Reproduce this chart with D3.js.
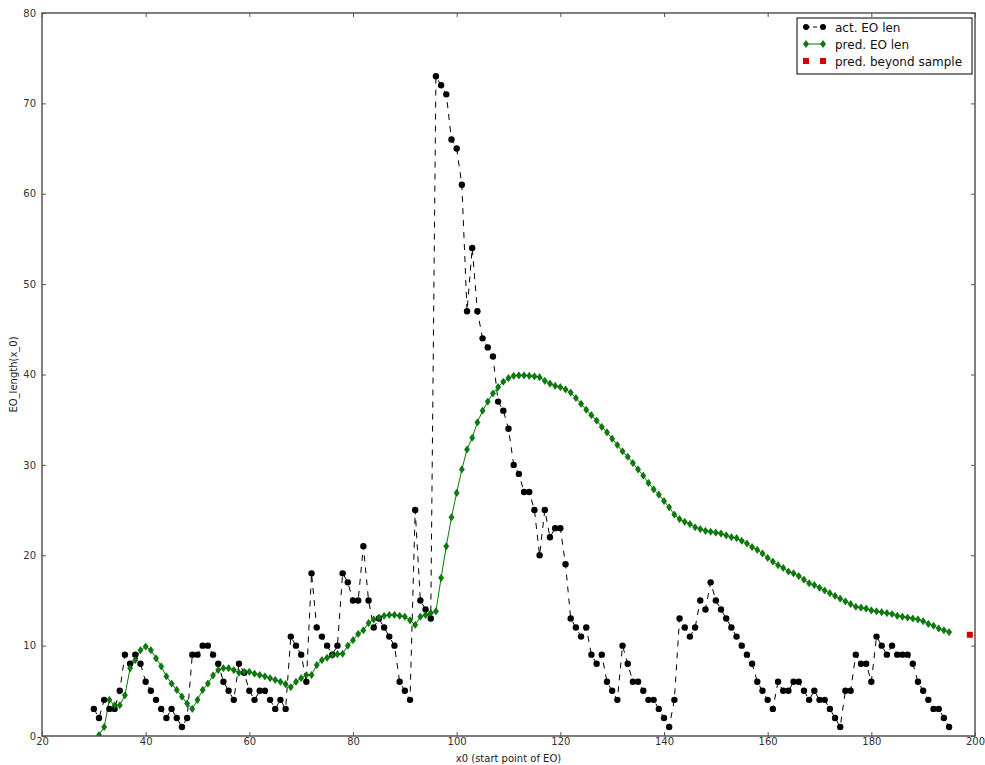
<!DOCTYPE html>
<html>
<head>
<meta charset="utf-8">
<script src="https://cdn.jsdelivr.net/npm/d3@7"></script>
<style>
  html, body { margin: 0; padding: 0; background: #fff; }
  svg { display: block; font-family: "DejaVu Sans", sans-serif; }
</style>
</head>
<body>
<svg id="chart" width="985" height="765"></svg>
<script>
// Actual EO length for each start point x0 = 30 .. 195
const actStart = 30;
const actLen = [
  3, 2, 4, 3, 3, 5, 9, 8, 9, 8,          // 30-39
  6, 5, 4, 3, 2, 3, 2, 1, 2, 9,          // 40-49
  9, 10, 10, 9, 8, 6, 5, 4, 8, 7,        // 50-59
  5, 4, 5, 5, 4, 3, 4, 3, 11, 10,        // 60-69
  9, 6, 18, 12, 11, 10, 9, 10, 18, 17,   // 70-79
  15, 15, 21, 15, 12, 13, 12, 11, 10, 6, // 80-89
  5, 4, 25, 15, 14, 13, 73, 72, 71, 66,  // 90-99
  65, 61, 47, 54, 47, 44, 43, 42, 37, 36,// 100-109
  34, 30, 29, 27, 27, 25, 20, 25, 22, 23,// 110-119
  23, 19, 13, 12, 11, 12, 9, 8, 9, 6,    // 120-129
  5, 4, 10, 8, 6, 6, 5, 4, 4, 3,         // 130-139
  2, 1, 4, 13, 12, 11, 12, 15, 14, 17,   // 140-149
  15, 14, 13, 12, 11, 10, 9, 8, 6, 5,    // 150-159
  4, 3, 6, 5, 5, 6, 6, 5, 4, 5,          // 160-169
  4, 4, 3, 2, 1, 5, 5, 9, 8, 8,          // 170-179
  6, 11, 10, 9, 10, 9, 9, 9, 8, 6,       // 180-189
  5, 4, 3, 3, 2, 1                       // 190-195
];

// Predicted EO length for x0 = 31 .. 195
const predStart = 31;
const predLen = [
  0.1, 1.0, 4.0, 3.4, 3.4, 4.5, 7.5, 8.4, 9.5,                // 31-39
  9.9, 9.5, 8.6, 7.7, 6.6, 5.8, 5.1, 4.35, 3.6, 3.0,          // 40-49
  4.0, 5.1, 5.8, 6.7, 7.3, 7.5, 7.5, 7.3, 7.0, 7.1,           // 50-59
  7.1, 6.9, 6.75, 6.6, 6.4, 6.2, 6.0, 5.75, 5.4, 6.0,         // 60-69
  6.4, 6.75, 6.75, 7.85, 8.4, 8.65, 8.95, 9.05, 9.1, 10.0,    // 70-79
  10.6, 11.3, 11.7, 12.5, 12.9, 13.1, 13.3, 13.4, 13.4, 13.3, // 80-89
  13.2, 12.8, 12.3, 13.2, 13.4, 13.6, 13.8, 17.5, 21.0, 24.2, // 90-99
  26.9, 29.5, 31.7, 33.0, 34.7, 36.0, 37.0, 37.9, 38.6, 39.2, // 100-109
  39.6, 39.85, 39.9, 39.9, 39.85, 39.8, 39.7, 39.3, 39.0, 38.75, // 110-119
  38.6, 38.35, 38.0, 37.4, 36.75, 36.1, 35.5, 34.9, 34.2, 33.6,  // 120-129
  32.9, 32.2, 31.5, 30.9, 30.2, 29.5, 28.8, 28.0, 27.3, 26.7, // 130-139
  26.0, 25.3, 24.5, 24.0, 23.7, 23.45, 23.1, 22.9, 22.7, 22.6,// 140-149
  22.5, 22.4, 22.2, 22.0, 21.9, 21.6, 21.3, 20.9, 20.6, 20.2, // 150-159
  19.7, 19.3, 18.9, 18.6, 18.2, 18.0, 17.7, 17.3, 16.9, 16.7, // 160-169
  16.4, 16.1, 15.8, 15.5, 15.2, 14.9, 14.6, 14.3, 14.2, 14.1, // 170-179
  13.9, 13.8, 13.7, 13.6, 13.5, 13.3, 13.2, 13.1, 13.0, 12.9, // 180-189
  12.7, 12.4, 12.2, 11.9, 11.7, 11.5                          // 190-195
];

// Prediction past the end of the sample
const beyondX = [199];
const beyondLen = [11.2];

const xTicks = [20, 40, 60, 80, 100, 120, 140, 160, 180, 200];
const yTicks = [0, 10, 20, 30, 40, 50, 60, 70, 80];
const legendLabels = ["act. EO len", "pred. EO len", "pred. beyond sample"];

const actual = actLen.map((v, i) => ({ x: actStart + i, y: v }));
const predicted = predLen.map((v, i) => ({ x: predStart + i, y: v }));
const beyond = beyondX.map((x, i) => ({ x, y: beyondLen[i] }));

const svg = d3.select("#chart");
const margin = { left: 42, right: 10, top: 13, bottom: 29 };
const W = 985, H = 765;

const x = d3.scaleLinear().domain([20, 200]).range([margin.left, W - margin.right]);
const y = d3.scaleLinear().domain([0, 80]).range([H - margin.bottom, margin.top]);

const green = "#007f00";
const frame = "#555";

// clip so markers on the frame edge are trimmed like the plot area
svg.append("defs").append("clipPath").attr("id", "plotclip")
  .append("rect")
  .attr("x", x(20)).attr("y", y(80))
  .attr("width", x(200) - x(20)).attr("height", y(0) - y(80));

const plot = svg.append("g").attr("clip-path", "url(#plotclip)");

const line = d3.line().x(d => x(d.x)).y(d => y(d.y));

// actual series: dashed black line with circle markers
plot.append("path").datum(actual)
  .attr("d", line)
  .attr("fill", "none")
  .attr("stroke", "#000")
  .attr("stroke-width", 1)
  .attr("stroke-dasharray", "6,6");

// predicted series: solid green line with thin diamond markers
plot.append("path").datum(predicted)
  .attr("d", line)
  .attr("fill", "none")
  .attr("stroke", green)
  .attr("stroke-width", 1);

plot.selectAll("circle.act").data(actual).enter().append("circle")
  .attr("class", "act")
  .attr("cx", d => x(d.x)).attr("cy", d => y(d.y))
  .attr("r", 3.2).attr("fill", "#000");

const diamond = (cx, cy) => `M${cx},${cy - 3.6}L${cx + 2.6},${cy}L${cx},${cy + 3.6}L${cx - 2.6},${cy}Z`;

plot.selectAll("path.pred").data(predicted).enter().append("path")
  .attr("class", "pred")
  .attr("d", d => diamond(x(d.x), y(d.y)))
  .attr("fill", green).attr("stroke", "#004d00").attr("stroke-width", 0.5);

plot.selectAll("rect.beyond").data(beyond).enter().append("rect")
  .attr("class", "beyond")
  .attr("x", d => x(d.x) - 3).attr("y", d => y(d.y) - 3)
  .attr("width", 6).attr("height", 6)
  .attr("fill", "#d40000");

// axes: ticks point inward on all four sides
const axisStyle = g => {
  g.select(".domain").remove();
  g.selectAll(".tick line").attr("stroke", frame);
  g.selectAll(".tick text").attr("fill", "#333").attr("font-size", 10)
    .attr("font-family", "DejaVu Sans, sans-serif");
};

svg.append("g")
  .attr("transform", `translate(0,${y(0)})`)
  .call(d3.axisBottom(x).tickValues(xTicks).tickSizeInner(-4).tickSizeOuter(0).tickPadding(2))
  .call(axisStyle);

svg.append("g")
  .attr("transform", `translate(0,${y(80)})`)
  .call(d3.axisTop(x).tickValues(xTicks).tickSizeInner(-4).tickSizeOuter(0).tickFormat(""))
  .call(axisStyle);

svg.append("g")
  .attr("transform", `translate(${x(20)},0)`)
  .call(d3.axisLeft(y).tickValues(yTicks).tickSizeInner(-4).tickSizeOuter(0).tickPadding(6))
  .call(axisStyle);

svg.append("g")
  .attr("transform", `translate(${x(200)},0)`)
  .call(d3.axisRight(y).tickValues(yTicks).tickSizeInner(-4).tickSizeOuter(0).tickFormat(""))
  .call(axisStyle);

// plot frame
svg.append("rect")
  .attr("x", x(20)).attr("y", y(80))
  .attr("width", x(200) - x(20)).attr("height", y(0) - y(80))
  .attr("fill", "none").attr("stroke", frame).attr("stroke-width", 1.5);

// axis titles
svg.append("text")
  .attr("x", (x(20) + x(200)) / 2).attr("y", H - 3)
  .attr("text-anchor", "middle").attr("font-size", 10).attr("fill", "#222")
  .text("x0 (start point of EO)");

svg.append("text")
  .attr("transform", `translate(17,${(y(0) + y(80)) / 2}) rotate(-90)`)
  .attr("text-anchor", "middle").attr("font-size", 10).attr("fill", "#222")
  .text("EO_length(x_0)");

// legend
const lg = svg.append("g").attr("transform", "translate(797,18)");
lg.append("rect").attr("width", 175).attr("height", 56)
  .attr("fill", "#fff").attr("stroke", "#000").attr("stroke-width", 1);

const rowY = [9, 26, 43];
const m1 = 9, m2 = 26;

// row 1: actual
lg.append("line").attr("x1", m1).attr("x2", m2).attr("y1", rowY[0]).attr("y2", rowY[0])
  .attr("stroke", "#000").attr("stroke-dasharray", "4,3");
[m1, m2].forEach(mx => lg.append("circle").attr("cx", mx).attr("cy", rowY[0]).attr("r", 3).attr("fill", "#000"));

// row 2: predicted
lg.append("line").attr("x1", m1).attr("x2", m2).attr("y1", rowY[1]).attr("y2", rowY[1])
  .attr("stroke", green);
[m1, m2].forEach(mx => lg.append("path").attr("d", diamond(mx, rowY[1]))
  .attr("fill", green).attr("stroke", "#004d00").attr("stroke-width", 0.5));

// row 3: beyond sample
[m1, m2].forEach(mx => lg.append("rect").attr("x", mx - 3).attr("y", rowY[2] - 3)
  .attr("width", 6).attr("height", 6).attr("fill", "#d40000"));

lg.selectAll("text.lab").data(legendLabels).enter().append("text")
  .attr("class", "lab")
  .attr("x", 38).attr("y", (d, i) => rowY[i] + 4.5)
  .attr("font-size", 12).attr("fill", "#111")
  .text(d => d);
</script>
</body>
</html>
